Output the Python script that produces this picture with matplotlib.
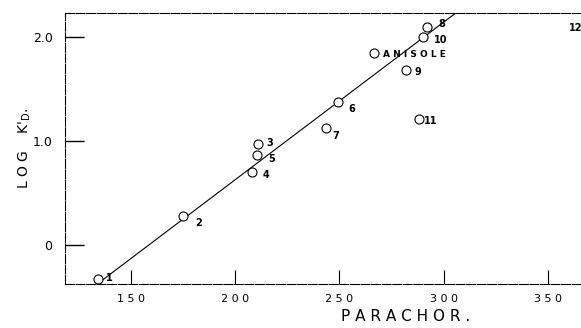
import numpy as np
import matplotlib
matplotlib.use('Agg')
from matplotlib import pyplot as plt

## Data (parachor vs log K'D)
labels = ['1', '2', '3', '4', '5', '6', '7', 'ANISOLE', '8', '9', '10', '11']
parachor = [134, 175, 211, 208, 210.5, 249.5, 243.5, 266.5, 292, 282, 290, 288]
log_kd = [-0.33, 0.28, 0.97, 0.70, 0.865, 1.375, 1.125, 1.845, 2.095, 1.68, 2.0, 1.21]
## label offsets (points), to lower right of each circle
label_dx = [6, 9, 6, 8, 8, 7, 5, 7, 8, 6, 8, 4]
label_dy = [1, -5, 1, -2, -3, -5, -6, -1, 2, -1, -2, -1]

## fitted line end points
line_x = [133.7, 305.8]
line_y = [-0.375, 2.23]

x_ticks = [150, 200, 250, 300, 350]
y_ticks = [0, 1.0, 2.0]
y_tick_labels = ['0', '1.0', '2.0']

fig = plt.figure(figsize=(5.81, 3.28), dpi=100)
ax = fig.add_axes([0.112, 0.134, 0.888, 0.826])

ax.plot(line_x, line_y, color='black', lw=0.8)
ax.plot(parachor, log_kd, 'o', mfc='white', mec='black', ms=6.5, mew=0.8)

for lab, x, y, dx, dy in zip(labels, parachor, log_kd, label_dx, label_dy):
    fs = 6.5 if lab == 'ANISOLE' else 7
    txt = ' '.join(lab) if lab == 'ANISOLE' else lab
    ax.annotate(txt, (x, y), xytext=(dx, dy), textcoords='offset points',
                fontsize=fs, fontweight='bold', va='center', ha='left')

## point 12 lies off the right edge; only its label shows
ax.text(1.003, 0.945, '12', transform=ax.transAxes, fontsize=7,
        fontweight='bold', ha='right', va='center')

ax.set_xlim(118.3, 366)
ax.set_ylim(-0.375, 2.23)

ax.set_xticks(x_ticks)
ax.set_xticklabels([' '.join(str(t)) for t in x_ticks], fontsize=8)
ax.set_yticks(y_ticks)
ax.set_yticklabels(y_tick_labels, fontsize=9)
ax.tick_params(axis='x', direction='in', length=10, width=0.8, pad=7)
ax.tick_params(axis='y', direction='in', length=14, width=1.0, pad=9)

ax.spines['right'].set_visible(False)
for s in ['top', 'left', 'bottom']:
    ax.spines[s].set_linewidth(0.8)
    ax.spines[s].set_linestyle((0, (8, 1.5)))

ax.set_xlabel('P A R A C H O R .', fontsize=11, x=0.66, labelpad=4)
ax.set_ylabel(r"L O G    K$'_{\mathrm{D}}$.", fontsize=10, labelpad=0)

fig.savefig('out.png', dpi=100)
